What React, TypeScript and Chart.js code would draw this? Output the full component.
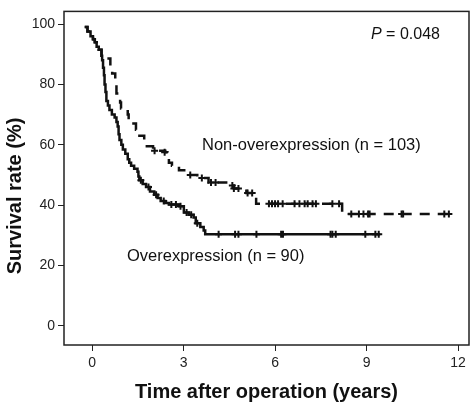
import React, { useEffect, useRef } from "react";
import { Chart, registerables } from "chart.js";

Chart.register(...registerables);

// Overexpression (n = 90) - Kaplan-Meier step points
const overTime = [-0.24, -0.15, -0.05, 0.03, 0.09, 0.15, 0.22, 0.31, 0.33, 0.36, 0.39, 0.41, 0.44, 0.47, 0.52, 0.57, 0.65, 0.74, 0.8, 0.84, 0.87, 0.9, 0.96, 1.01, 1.09, 1.17, 1.22, 1.28, 1.38, 1.49, 1.52, 1.55, 1.66, 1.77, 1.9, 2.04, 2.15, 2.25, 2.4, 2.52, 2.85, 3.01, 3.17, 3.33, 3.4, 3.55, 3.66, 3.71, 9.45];
const overSurv = [99, 97.5, 96, 95, 94, 92.5, 91.5, 89.5, 88, 85.5, 83, 80, 77.5, 74.5, 73, 71.5, 70, 69, 67.5, 66, 63.5, 61.6, 60, 58.4, 57, 55.2, 54, 53, 52, 51, 49.5, 48.2, 47, 46, 44.5, 43.4, 42.3, 41.3, 40.7, 40.2, 39.6, 37.5, 36.8, 35.9, 34, 32.7, 31.6, 30.3, 30.3];
const overCensTime = [1.6, 1.85, 2.1, 2.35, 2.6, 2.75, 2.9, 3.1, 3.25, 3.45, 4.15, 4.69, 4.8, 5.39, 6.2, 6.26, 7.82, 7.88, 7.99, 8.96, 9.29, 9.4];
const overCensSurv = [48.2, 46, 43.4, 41.3, 40.2, 40.2, 39.6, 37.5, 36.8, 34, 30.3, 30.3, 30.3, 30.3, 30.3, 30.3, 30.3, 30.3, 30.3, 30.3, 30.3, 30.3];

// Non-overexpression (n = 103)
const nonTime = [-0.24, -0.15, -0.05, 0.03, 0.09, 0.15, 0.22, 0.31, 0.36, 0.6, 0.66, 0.76, 0.8, 0.92, 0.95, 1.17, 1.2, 1.44, 1.47, 1.71, 1.74, 2.0, 2.4, 2.47, 2.52, 2.62, 2.85, 3.17, 3.45, 3.82, 4.55, 4.65, 5.06, 5.3, 5.38, 8.2, 11.84];
const nonSurv = [99, 97.5, 96, 95, 94, 92.5, 91.5, 89.5, 88.6, 85, 83.6, 80, 77, 74, 72, 70, 67, 65, 63, 61, 59.5, 58, 57.5, 55.5, 54, 53, 51.5, 50, 49, 47.5, 46.5, 45.5, 44, 42.8, 40.4, 37, 37];
const nonCensTime = [2.05, 2.38, 3.22, 3.6, 3.9, 4.05, 4.6, 4.65, 4.8, 5.1, 5.25, 5.8, 5.9, 6.0, 6.1, 6.25, 6.64, 6.8, 6.97, 7.07, 7.23, 7.34, 7.88, 8.1, 8.5, 8.75, 8.9, 9.05, 9.1, 10.15, 10.2, 11.55, 11.7];
const nonCensSurv = [58, 57.5, 50, 49, 47.5, 47.5, 46.5, 45.5, 45.5, 44, 44, 40.4, 40.4, 40.4, 40.4, 40.4, 40.4, 40.4, 40.4, 40.4, 40.4, 40.4, 40.4, 40.4, 37, 37, 37, 37, 37, 37, 37, 37, 37];

const xTicks = [0, 3, 6, 9, 12];
const yTicks = [0, 20, 40, 60, 80, 100];

const FONT = '"Liberation Sans", Arial, sans-serif';

const toPts = (xs: number[], ys: number[]) => xs.map((x, i) => ({ x, y: ys[i] }));

const decor = {
  id: "decor",
  afterDraw(chart: any) {
    const { ctx, chartArea } = chart;
    const { left, right, top, bottom } = chartArea;
    ctx.save();
    ctx.strokeStyle = "#222";
    ctx.lineWidth = 1.5;
    ctx.strokeRect(left, top, right - left, bottom - top);

    ctx.fillStyle = "#111";
    ctx.textBaseline = "middle";
    ctx.textAlign = "left";
    // P value
    ctx.font = `italic 16px ${FONT}`;
    ctx.fillText("P", 371, 35);
    const pw = ctx.measureText("P").width;
    ctx.font = `16px ${FONT}`;
    ctx.fillText(" = 0.048", 371 + pw, 35);

    ctx.font = `16.5px ${FONT}`;
    ctx.fillText("Non-overexpression (n = 103)", 202, 145);
    ctx.fillText("Overexpression (n = 90)", 127, 256);

    // axis titles
    ctx.font = `bold 20px ${FONT}`;
    ctx.textAlign = "center";
    ctx.fillText("Time after operation (years)", (left + right) / 2, 392);
    ctx.translate(15, 196);
    ctx.rotate(-Math.PI / 2);
    ctx.fillText("Survival rate (%)", 0, 0);
    ctx.restore();
  },
};

export default function App() {
  const ref = useRef<HTMLCanvasElement>(null);
  useEffect(() => {
    if (!ref.current) return;
    const censorStyle = {
      type: "scatter" as const,
      showLine: false,
      pointStyle: "cross",
      pointRadius: 3.5,
      pointBorderWidth: 2,
      pointBorderColor: "#111",
      pointBackgroundColor: "#111",
    };
    const chart = new Chart(ref.current, {
      type: "line",
      data: {
        datasets: [
          {
            label: "Overexpression",
            data: toPts(overTime, overSurv),
            stepped: true,
            borderColor: "#111",
            borderWidth: 2.5,
            pointRadius: 0,
            fill: false,
          },
          {
            label: "Non-overexpression",
            data: toPts(nonTime, nonSurv),
            stepped: true,
            borderColor: "#111",
            borderWidth: 2.5,
            borderDash: [10, 8],
            pointRadius: 0,
            fill: false,
          },
          { ...censorStyle, label: "oc", data: toPts(overCensTime, overCensSurv) } as any,
          { ...censorStyle, label: "nc", data: toPts(nonCensTime, nonCensSurv) } as any,
        ],
      },
      options: {
        animation: false,
        responsive: false,
        layout: { padding: { top: 1, right: 2, left: 0, bottom: 0 } },
        plugins: { legend: { display: false }, tooltip: { enabled: false } },
        scales: {
          x: {
            type: "linear",
            min: -0.92,
            max: 12.36,
            afterBuildTicks: (s: any) => {
              s.ticks = xTicks.map((v) => ({ value: v }));
            },
            afterFit: (s: any) => {
              s.height = 64;
            },
            grid: { display: true, drawOnChartArea: false, drawTicks: true, tickLength: 6, color: "#222", lineWidth: 1 },
            border: { display: false },
            ticks: { font: { family: FONT, size: 14 }, color: "#222", padding: 4, maxRotation: 0 },
          },
          y: {
            type: "linear",
            min: -6.4,
            max: 104.2,
            afterBuildTicks: (s: any) => {
              s.ticks = yTicks.map((v) => ({ value: v }));
            },
            afterFit: (s: any) => {
              s.width = 64;
            },
            grid: { display: true, drawOnChartArea: false, drawTicks: true, tickLength: 6, color: "#222", lineWidth: 1 },
            border: { display: false },
            ticks: { font: { family: FONT, size: 14 }, color: "#222", padding: 3 },
          },
        },
      },
      plugins: [decor],
    });
    return () => chart.destroy();
  }, []);
  return (
    <div style={{ position: "absolute", left: 0, top: 0, width: 475, height: 409, background: "#fff" }}>
      <canvas ref={ref} width={475} height={409} style={{ display: "block" }} />
    </div>
  );
}
